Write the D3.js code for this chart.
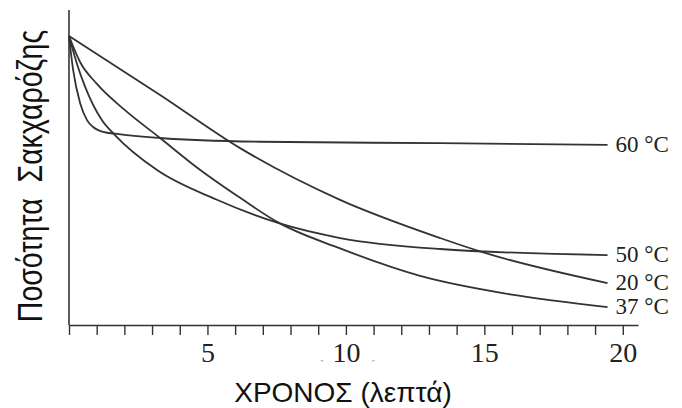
<!DOCTYPE html>
<html>
<head>
<meta charset="utf-8">
<script src="https://cdn.jsdelivr.net/npm/d3@7"></script>
<style>
  body { margin: 0; background: #fff; }
  svg { display: block; }
</style>
</head>
<body>
<div id="chart"></div>
<script>
// Data (time in minutes, amount in % of start)
let times60 = [0, 0.15, 0.4, 0.65, 0.87, 1.23, 1.73, 3.29, 6.9, 13.4, 19.45];
let values60 = [100, 88.2, 76.8, 70.9, 68.5, 66.8, 66.1, 64.7, 63.4, 62.9, 62.3];

let times50 = [0, 0.3, 0.58, 1.18, 1.66, 3.18, 5.3, 7.55, 9.79, 13.4, 19.45];
let values50 = [100, 90, 82.5, 71, 65.7, 53.6, 43.5, 35.3, 30.1, 26.3, 24.2];

let times20 = [0, 3.29, 6.18, 9.79, 13.4, 14.9, 19.45];
let values20 = [100, 79.6, 61.2, 43.3, 30.1, 25.3, 14.5];

let times37 = [0, 0.4, 1.0, 2.0, 3.29, 4.62, 6.18, 7.55, 9.79, 12.68, 16, 19.45];
let values37 = [100, 91, 83.5, 74.5, 64.7, 54.5, 44.0, 35.5, 26.5, 17, 10.5, 6.2];

let seriesNames = ['60 °C', '50 °C', '20 °C', '37 °C'];
let xTicks = [5, 10, 15, 20];

let width = 682;
let height = 408;

let svg = d3.select('#chart')
	.append('svg')
	.attr('width', width)
	.attr('height', height);

let x = d3.scaleLinear().domain([0, 20.55]).range([69, 638]);
let y = d3.scaleLinear().domain([0, 100]).range([325, 36]);

let ink = '#333';

// x axis with a tick every minute, labels every 5
let xAxis = d3.axisBottom(x)
	.tickValues(d3.range(0, 21))
	.tickSize(10)
	.tickSizeOuter(0)
	.tickFormat(function(d) { return xTicks.indexOf(d) >= 0 ? d : ''; });

let gx = svg.append('g')
	.attr('transform', 'translate(0,' + y(0) + ')')
	.call(xAxis);

gx.select('.domain').attr('stroke', ink).attr('stroke-width', 1.6);
gx.selectAll('.tick line').attr('stroke', ink).attr('stroke-width', 1.4);
gx.selectAll('.tick text')
	.attr('y', 37)
	.attr('dy', null)
	.attr('fill', '#222')
	.attr('font-family', 'Liberation Serif, Times New Roman, serif')
	.attr('font-size', 28);

// y axis, a plain line
svg.append('line')
	.attr('x1', x(0)).attr('x2', x(0))
	.attr('y1', y(0)).attr('y2', y(109))
	.attr('stroke', ink)
	.attr('stroke-width', 1.6);

// curves
let series = [
	[times60, values60],
	[times50, values50],
	[times20, values20],
	[times37, values37]
];

let line = d3.line()
	.x(function(d) { return x(d[0]); })
	.y(function(d) { return y(d[1]); })
	.curve(d3.curveMonotoneX);

for (let i = 0; i < series.length; i++) {
	let pts = d3.zip(series[i][0], series[i][1]);
	svg.append('path')
		.datum(pts)
		.attr('fill', 'none')
		.attr('stroke', ink)
		.attr('stroke-width', 1.8)
		.attr('d', line);

	let last = pts[pts.length - 1];
	svg.append('text')
		.attr('x', x(last[0]) + 8)
		.attr('y', y(last[1]) + 7)
		.attr('font-family', 'Liberation Serif, Times New Roman, serif')
		.attr('font-size', 23)
		.attr('fill', '#222')
		.text(seriesNames[i]);
}

// axis titles
svg.append('text')
	.attr('x', 343)
	.attr('y', 402)
	.attr('text-anchor', 'middle')
	.attr('font-family', 'Liberation Sans, Arial, sans-serif')
	.attr('font-size', 28)
	.attr('fill', '#111')
	.text('ΧΡΟΝΟΣ (λεπτά)');

svg.append('text')
	.attr('transform', 'translate(42,176) rotate(-90) scale(1,1.25)')
	.attr('text-anchor', 'middle')
	.attr('font-family', 'Liberation Sans, Arial, sans-serif')
	.attr('font-size', 28.5)
	.attr('fill', '#111')
	.style('white-space', 'pre')
	.text('Ποσότητα  Σακχαρόζης');

// small stray marks of the scan near the "10" label
svg.append('text')
	.attr('x', 322).attr('y', 370)
	.attr('text-anchor', 'middle')
	.attr('font-size', 14)
	.attr('fill', '#999')
	.text('`');
svg.append('text')
	.attr('x', 373).attr('y', 370)
	.attr('text-anchor', 'middle')
	.attr('font-size', 14)
	.attr('fill', '#999')
	.text('´');
</script>
</body>
</html>
